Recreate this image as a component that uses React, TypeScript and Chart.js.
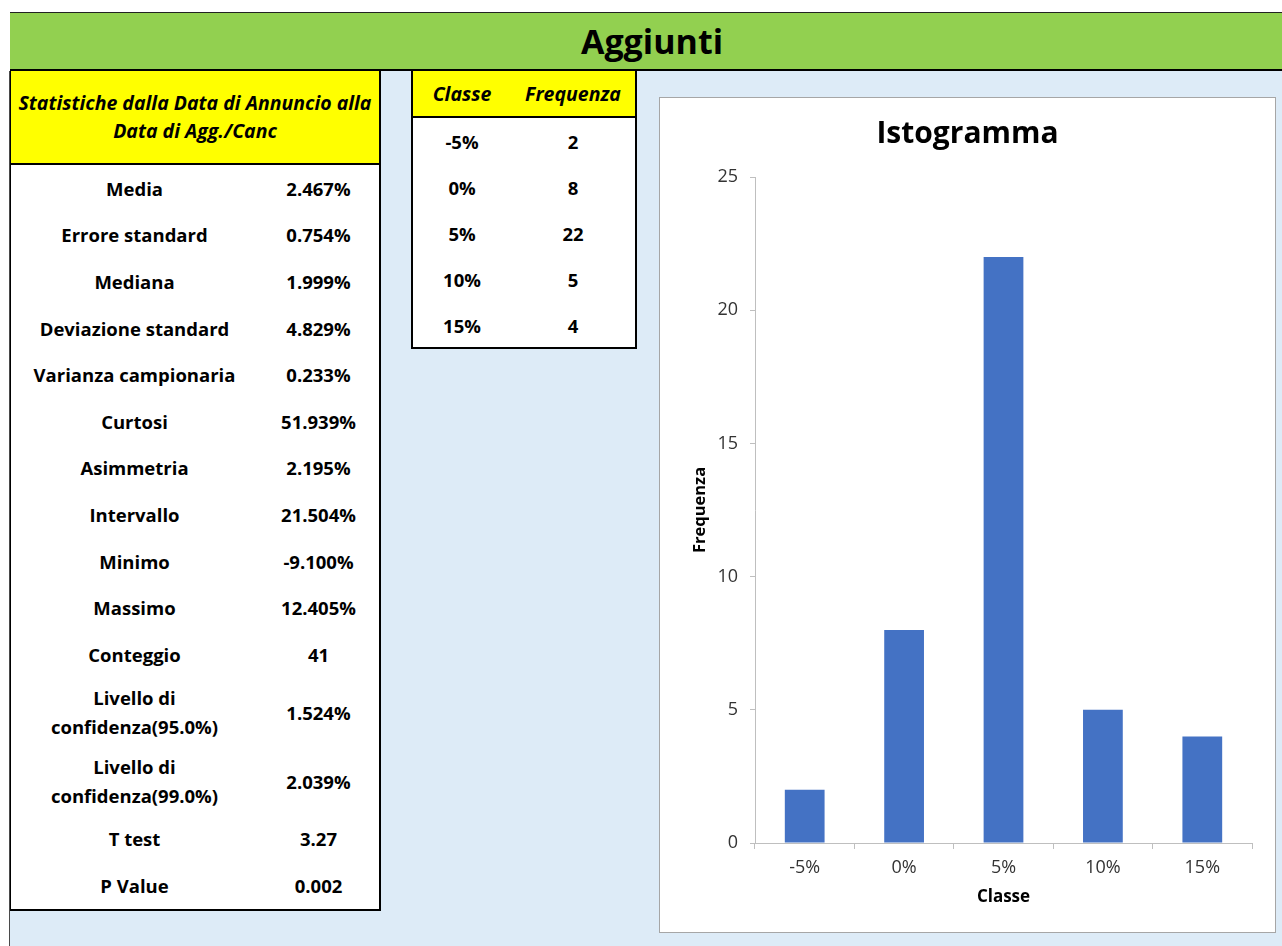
import React, { useEffect, useRef } from "react";
import { Chart, registerables } from "chart.js";

Chart.register(...registerables);

const pageTitle = "Aggiunti";
const statsHeader = ["Statistiche dalla Data di Annuncio alla", "Data di Agg./Canc"];
const statLabels = [
  "Media",
  "Errore standard",
  "Mediana",
  "Deviazione standard",
  "Varianza campionaria",
  "Curtosi",
  "Asimmetria",
  "Intervallo",
  "Minimo",
  "Massimo",
  "Conteggio",
  "Livello di confidenza(95.0%)",
  "Livello di confidenza(99.0%)",
  "T test",
  "P Value",
];
const statValues = [
  "2.467%",
  "0.754%",
  "1.999%",
  "4.829%",
  "0.233%",
  "51.939%",
  "2.195%",
  "21.504%",
  "-9.100%",
  "12.405%",
  "41",
  "1.524%",
  "2.039%",
  "3.27",
  "0.002",
];
const freqHeaders = ["Classe", "Frequenza"];
const classes = ["-5%", "0%", "5%", "10%", "15%"];
const frequencies = [2, 8, 22, 5, 4];
const chartTitle = "Istogramma";
const xTitle = "Classe";
const yTitle = "Frequenza";
const yMin = 0;
const yMax = 25;
const yStep = 5;

const FONT = "'Open Sans', Lato, sans-serif";

export default function App() {
  const canvasRef = useRef<HTMLCanvasElement | null>(null);

  useEffect(() => {
    if (!canvasRef.current) return;
    const chart = new Chart(canvasRef.current, {
      type: "bar",
      data: {
        labels: classes,
        datasets: [
          {
            label: yTitle,
            data: frequencies,
            backgroundColor: "#4472C4",
            borderWidth: 0,
            barPercentage: 0.4,
            categoryPercentage: 1.0,
          },
        ],
      },
      options: {
        responsive: false,
        animation: false,
        layout: { padding: { left: 23, right: 23, top: 0, bottom: 0 } },
        plugins: {
          legend: { display: false },
          tooltip: { enabled: false },
          title: {
            display: true,
            text: chartTitle,
            color: "#000",
            font: { family: FONT, size: 30, weight: "bold", lineHeight: 1.2 },
            padding: { top: 18, bottom: 25 },
          },
        },
        scales: {
          x: {
            grid: {
              drawOnChartArea: false,
              drawTicks: true,
              tickLength: 6,
              color: "#bfbfbf",
              offset: true,
            },
            border: { color: "#bfbfbf", width: 1 },
            ticks: { color: "#333", font: { family: FONT, size: 18 }, padding: 8 },
            title: {
              display: true,
              text: xTitle,
              color: "#000",
              font: { family: FONT, size: 17, weight: "bold", lineHeight: 1.2 },
              padding: { top: 0, bottom: 25 },
            },
            afterFit: (s: any) => {
              s.height = 89;
            },
          },
          y: {
            min: yMin,
            max: yMax,
            ticks: { stepSize: yStep, color: "#333", font: { family: FONT, size: 18 }, padding: 12 },
            grid: { drawOnChartArea: false, drawTicks: true, tickLength: 5, color: "#bfbfbf" },
            border: { color: "#bfbfbf", width: 1 },
            title: {
              display: true,
              text: yTitle,
              color: "#000",
              font: { family: FONT, size: 16.5, weight: "bold", lineHeight: 1.2 },
              padding: { top: 7, bottom: 0 },
            },
            afterFit: (s: any) => {
              s.width = 72;
            },
          },
        },
      },
    });
    return () => chart.destroy();
  }, []);

  // left table row geometry
  const headerTop = 71;
  const headerBottom = 165;
  const rowH = 46.6;
  const tallH = 69;
  let acc = headerBottom;
  const rows = statLabels.map((label, i) => {
    const h = label.length > 22 ? tallH : rowH;
    const r = { label, value: statValues[i], top: acc, h };
    acc += h;
    return r;
  });
  const tableBottom = acc;

  const cellText: React.CSSProperties = {
    position: "absolute",
    display: "flex",
    alignItems: "center",
    justifyContent: "center",
    textAlign: "center",
    fontWeight: 700,
    fontSize: 18.5,
    color: "#000",
  };

  return (
    <div
      style={{
        position: "absolute",
        left: 0,
        top: 0,
        width: 1282,
        height: 946,
        overflow: "hidden",
        background: "#fff",
        fontFamily: FONT,
      }}
    >
      {/* light blue background */}
      <div style={{ position: "absolute", left: 9, top: 71, width: 1273, height: 875, background: "#DDEBF7", borderLeft: "1px solid #4a4a4a", boxSizing: "border-box" }} />
      {/* green title bar */}
      <div
        style={{
          position: "absolute",
          left: 10,
          top: 12,
          width: 1300,
          height: 59,
          background: "#92D050",
          borderTop: "1px solid #222",
          borderBottom: "2px solid #000",
          boxSizing: "border-box",
        }}
      />
      <div style={{ ...cellText, left: 10, top: 13, width: 1284, height: 56, fontSize: 34 }}>{pageTitle}</div>

      {/* left stats table */}
      <div
        style={{
          position: "absolute",
          left: 10,
          top: headerTop,
          width: 371,
          height: tableBottom + 2 - headerTop,
          background: "#fff",
          borderRight: "2px solid #000",
          borderBottom: "2px solid #000",
          borderLeft: "1px solid #000",
          boxSizing: "border-box",
        }}
      />
      <div
        style={{
          position: "absolute",
          left: 11,
          top: headerTop,
          width: 368,
          height: headerBottom - headerTop,
          background: "#FFFF00",
          borderBottom: "2px solid #000",
          boxSizing: "border-box",
        }}
      />
      <div style={{ ...cellText, left: 11, top: headerTop, width: 368, height: headerBottom - headerTop - 2, fontSize: 19.5, fontStyle: "italic", lineHeight: "28px", flexDirection: "column", whiteSpace: "nowrap" }}>
        <span>{statsHeader[0]}</span>
        <span>{statsHeader[1]}</span>
      </div>
      {rows.map((r, i) => (
        <React.Fragment key={i}>
          <div style={{ ...cellText, left: 11, top: r.top, width: 247, height: r.h, lineHeight: "29px", padding: "0 14px", boxSizing: "border-box" }}>{r.label}</div>
          <div style={{ ...cellText, left: 258, top: r.top, width: 121, height: r.h }}>{r.value}</div>
        </React.Fragment>
      ))}

      {/* frequency table */}
      <div
        style={{
          position: "absolute",
          left: 411,
          top: 71,
          width: 226,
          height: 278,
          background: "#fff",
          border: "2px solid #000",
          borderTop: "none",
          boxSizing: "border-box",
        }}
      />
      <div style={{ position: "absolute", left: 413, top: 71, width: 222, height: 47, background: "#FFFF00", borderBottom: "2px solid #000", boxSizing: "border-box" }} />
      {freqHeaders.map((h, i) => (
        <div key={h} style={{ ...cellText, left: i === 0 ? 413 : 511, top: 71, width: i === 0 ? 98 : 124, height: 45, fontSize: 19.5, fontStyle: "italic" }}>
          {h}
        </div>
      ))}
      {classes.map((c, i) => (
        <React.Fragment key={c}>
          <div style={{ ...cellText, left: 413, top: 118 + i * 46, width: 98, height: 46 }}>{c}</div>
          <div style={{ ...cellText, left: 511, top: 118 + i * 46, width: 124, height: 46 }}>{frequencies[i]}</div>
        </React.Fragment>
      ))}

      {/* chart box */}
      <div
        style={{
          position: "absolute",
          left: 659,
          top: 97,
          width: 617,
          height: 836,
          background: "#fff",
          border: "1px solid #a6a6a6",
          boxSizing: "border-box",
        }}
      >
        <canvas ref={canvasRef} width={615} height={834} style={{ display: "block" }} />
      </div>
    </div>
  );
}
